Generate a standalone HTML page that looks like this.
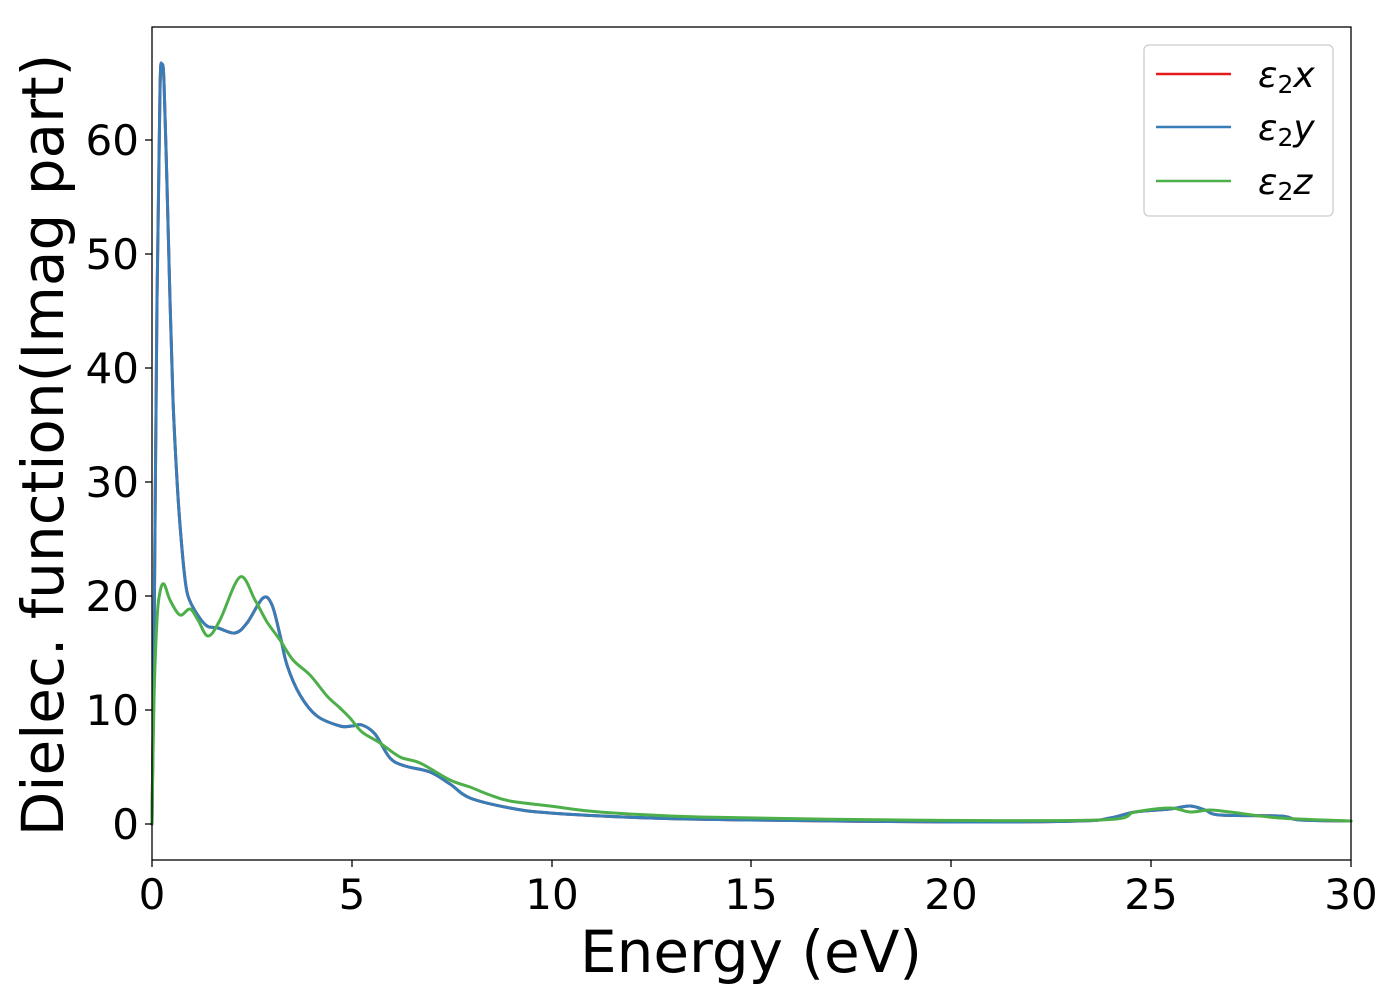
<!DOCTYPE html>
<html><head><meta charset="utf-8"><style>body{margin:0;background:#fff}</style></head><body>
<svg width="1400" height="1000" viewBox="0 0 1400 1000" xmlns="http://www.w3.org/2000/svg" font-family="'DejaVu Sans','Liberation Sans',sans-serif">
<rect width="1400" height="1000" fill="#fff"/>
<g fill="none" stroke-width="3" stroke-linejoin="round" stroke-linecap="round">
<path id="r" stroke="#e41a1c"/>
<path id="b" stroke="#377eb8"/>
<path id="g" stroke="#4daf4a"/>
</g>
<rect x="152" y="27" width="1199" height="833" fill="none" stroke="#000" stroke-width="1.3"/>
<g stroke="#000" stroke-width="1.3">
<line x1="152" y1="860" x2="152" y2="867"/><line x1="352" y1="860" x2="352" y2="867"/><line x1="552" y1="860" x2="552" y2="867"/><line x1="751" y1="860" x2="751" y2="867"/><line x1="951" y1="860" x2="951" y2="867"/><line x1="1151" y1="860" x2="1151" y2="867"/><line x1="1351" y1="860" x2="1351" y2="867"/>
<line x1="145" y1="824" x2="152" y2="824"/><line x1="145" y1="710" x2="152" y2="710"/><line x1="145" y1="596" x2="152" y2="596"/><line x1="145" y1="482" x2="152" y2="482"/><line x1="145" y1="368" x2="152" y2="368"/><line x1="145" y1="254" x2="152" y2="254"/><line x1="145" y1="140" x2="152" y2="140"/>
</g>
<g font-size="42" fill="#000" text-anchor="middle">
<text x="152" y="909">0</text><text x="352" y="909">5</text><text x="552" y="909">10</text><text x="751" y="909">15</text><text x="951" y="909">20</text><text x="1151" y="909">25</text><text x="1351" y="909">30</text>
</g>
<g font-size="42" fill="#000" text-anchor="end">
<text x="139" y="839">0</text><text x="139" y="725">10</text><text x="139" y="611">20</text><text x="139" y="497">30</text><text x="139" y="383">40</text><text x="139" y="269">50</text><text x="139" y="155">60</text>
</g>
<text x="751" y="972" font-size="58" text-anchor="middle">Energy (eV)</text>
<text transform="translate(63,445) rotate(-90)" font-size="58" text-anchor="middle">Dielec. function(Imag part)</text>
<rect x="1144" y="45" width="189" height="171" rx="5" fill="#fff" stroke="#ccc" stroke-width="1.3"/>
<line x1="1156" y1="74" x2="1231" y2="74" stroke="#e41a1c" stroke-width="2.6"/>
<line x1="1156" y1="127" x2="1231" y2="127" stroke="#377eb8" stroke-width="2.6"/>
<line x1="1156" y1="181" x2="1231" y2="181" stroke="#4daf4a" stroke-width="2.6"/>
<g font-size="36" font-style="italic">
<text x="1258" y="87">ε<tspan font-style="normal" font-size="25" dy="6">2</tspan><tspan dy="-6">x</tspan></text>
<text x="1258" y="140">ε<tspan font-style="normal" font-size="25" dy="6">2</tspan><tspan dy="-6">y</tspan></text>
<text x="1258" y="194">ε<tspan font-style="normal" font-size="25" dy="6">2</tspan><tspan dy="-6">z</tspan></text>
</g>
</svg>
<script>
function cr(p){var d="M"+p[0][0]+","+p[0][1];for(var i=0;i<p.length-1;i++){var p0=p[i-1]||p[i],p1=p[i],p2=p[i+1],p3=p[i+2]||p2;
var c1x=p1[0]+(p2[0]-p0[0])/6,c1y=p1[1]+(p2[1]-p0[1])/6,c2x=p2[0]-(p3[0]-p1[0])/6,c2y=p2[1]-(p3[1]-p1[1])/6;
d+=" C"+c1x.toFixed(1)+","+c1y.toFixed(1)+" "+c2x.toFixed(1)+","+c2y.toFixed(1)+" "+p2[0]+","+p2[1];}return d;}
var B=[[152,824],[154,650],[157,300],[160,90],[162,65],[164,82],[167,185],[170,300],[173,400],[177,480],[180,525],[184,570],[188,596],[197,614],[207,626],[218,628],[235,633],[247,623],[263,598],[272,605],[280,635],[287,665],[300,695],[317,716],[340,726],[352,726],[362,725],[375,734],[390,758],[405,766],[430,772],[450,784],[470,798],[510,808],[550,813],[650,818],[750,820],[950,822],[1080,821],[1110,818],[1135,812],[1170,809],[1190,806],[1205,810],[1220,815],[1280,816],[1300,820],[1351,821]];
var G=[[152,824],[154,700],[157,620],[160,592],[164,584],[170,600],[180,615],[190,609],[198,620],[208,636],[220,620],[240,577],[255,600],[267,622],[280,640],[293,660],[310,675],[327,696],[340,708],[350,718],[362,732],[380,743],[400,757],[420,763],[450,780],[470,787],[490,795],[510,801],[550,806],[600,812],[700,817],[900,820],[1100,820],[1135,812],[1170,808],[1190,812],[1210,810],[1230,812],[1280,818],[1351,821]];
document.getElementById("r").setAttribute("d",cr(B));
document.getElementById("b").setAttribute("d",cr(B));
document.getElementById("g").setAttribute("d",cr(G));
</script>
</body></html>
